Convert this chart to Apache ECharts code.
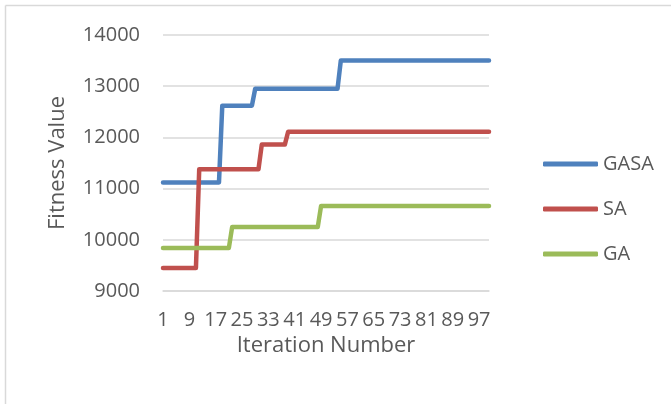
<!DOCTYPE html>
<html>
<head>
<meta charset="utf-8">
<script src="https://cdn.jsdelivr.net/npm/echarts@6/dist/echarts.min.js"></script>
<style>html,body{margin:0;padding:0;background:#fff;}#c{width:671px;height:404px;}</style>
</head>
<body>
<div id="c"></div>
<script>
// Data: iteration numbers 1..100, step values
const iterations = [];
for (let i = 1; i <= 100; i++) iterations.push(String(i));

// step definitions: [first iteration index (0-based) where value starts, value]
const gasaSteps = [[0, 11120], [18, 12620], [28, 12950], [54, 13500]];
const saSteps = [[0, 9450], [11, 11380], [30, 11860], [38, 12110]];
const gaSteps = [[0, 9840], [21, 10250], [48, 10660]];

function expand(steps) {
  const out = [];
  for (let i = 0; i < iterations.length; i++) {
    let v = steps[0][1];
    for (const s of steps) if (i >= s[0]) v = s[1];
    out.push(v);
  }
  return out;
}
const gasa = expand(gasaSteps);
const sa = expand(saSteps);
const ga = expand(gaSteps);

const seriesNames = ['GASA', 'SA', 'GA'];
const colors = ['#4f81bd', '#c0504d', '#9bbb59'];
const yTicks = [9000, 10000, 11000, 12000, 13000, 14000];

const font = '"Open Sans", "Noto Sans", sans-serif';
const chart = echarts.init(document.getElementById('c'));
chart.setOption({
  animation: false,
  textStyle: { fontFamily: font },
  graphic: [
    { type: 'line', shape: { x1: 5.5, y1: 5.5, x2: 671, y2: 5.5 }, style: { stroke: '#d9d9d9', lineWidth: 1.5 } },
    { type: 'line', shape: { x1: 5.5, y1: 5.5, x2: 5.5, y2: 404 }, style: { stroke: '#d9d9d9', lineWidth: 1.5 } }
  ],
  grid: { left: 163, top: 35, width: 326, height: 256, containLabel: false },
  legend: {
    orient: 'vertical',
    left: 538,
    top: 149,
    itemWidth: 55,
    itemHeight: 5,
    itemGap: 25,
    icon: 'roundRect',
    data: seriesNames,
    textStyle: { fontFamily: font, fontSize: 20, lineHeight: 20, color: '#595959' }
  },
  xAxis: {
    type: 'category',
    data: iterations,
    boundaryGap: false,
    name: 'Iteration Number',
    nameLocation: 'middle',
    nameGap: 42,
    nameTextStyle: { fontFamily: font, fontSize: 22, color: '#595959' },
    axisLine: { lineStyle: { color: '#d9d9d9', width: 1.5 } },
    axisTick: { show: false },
    axisLabel: { interval: 7, fontFamily: font, fontSize: 20, color: '#595959', margin: 19 },
    splitLine: { show: false }
  },
  yAxis: {
    type: 'value',
    min: yTicks[0],
    max: yTicks[yTicks.length - 1],
    interval: 1000,
    name: 'Fitness Value',
    nameLocation: 'middle',
    nameGap: 94,
    nameTextStyle: { fontFamily: font, fontSize: 22, color: '#595959' },
    axisLine: { show: false },
    axisTick: { show: false },
    axisLabel: { fontFamily: font, fontSize: 20, color: '#595959', margin: 23, formatter: v => String(v) },
    splitLine: { lineStyle: { color: '#d9d9d9', width: 1.5 } }
  },
  series: [
    { name: seriesNames[0], type: 'line', data: gasa, symbol: 'none', lineStyle: { width: 4.5, color: colors[0], cap: 'round', join: 'round' }, itemStyle: { color: colors[0] } },
    { name: seriesNames[1], type: 'line', data: sa, symbol: 'none', lineStyle: { width: 4.5, color: colors[1], cap: 'round', join: 'round' }, itemStyle: { color: colors[1] } },
    { name: seriesNames[2], type: 'line', data: ga, symbol: 'none', lineStyle: { width: 4.5, color: colors[2], cap: 'round', join: 'round' }, itemStyle: { color: colors[2] } }
  ]
});
</script>
</body>
</html>
